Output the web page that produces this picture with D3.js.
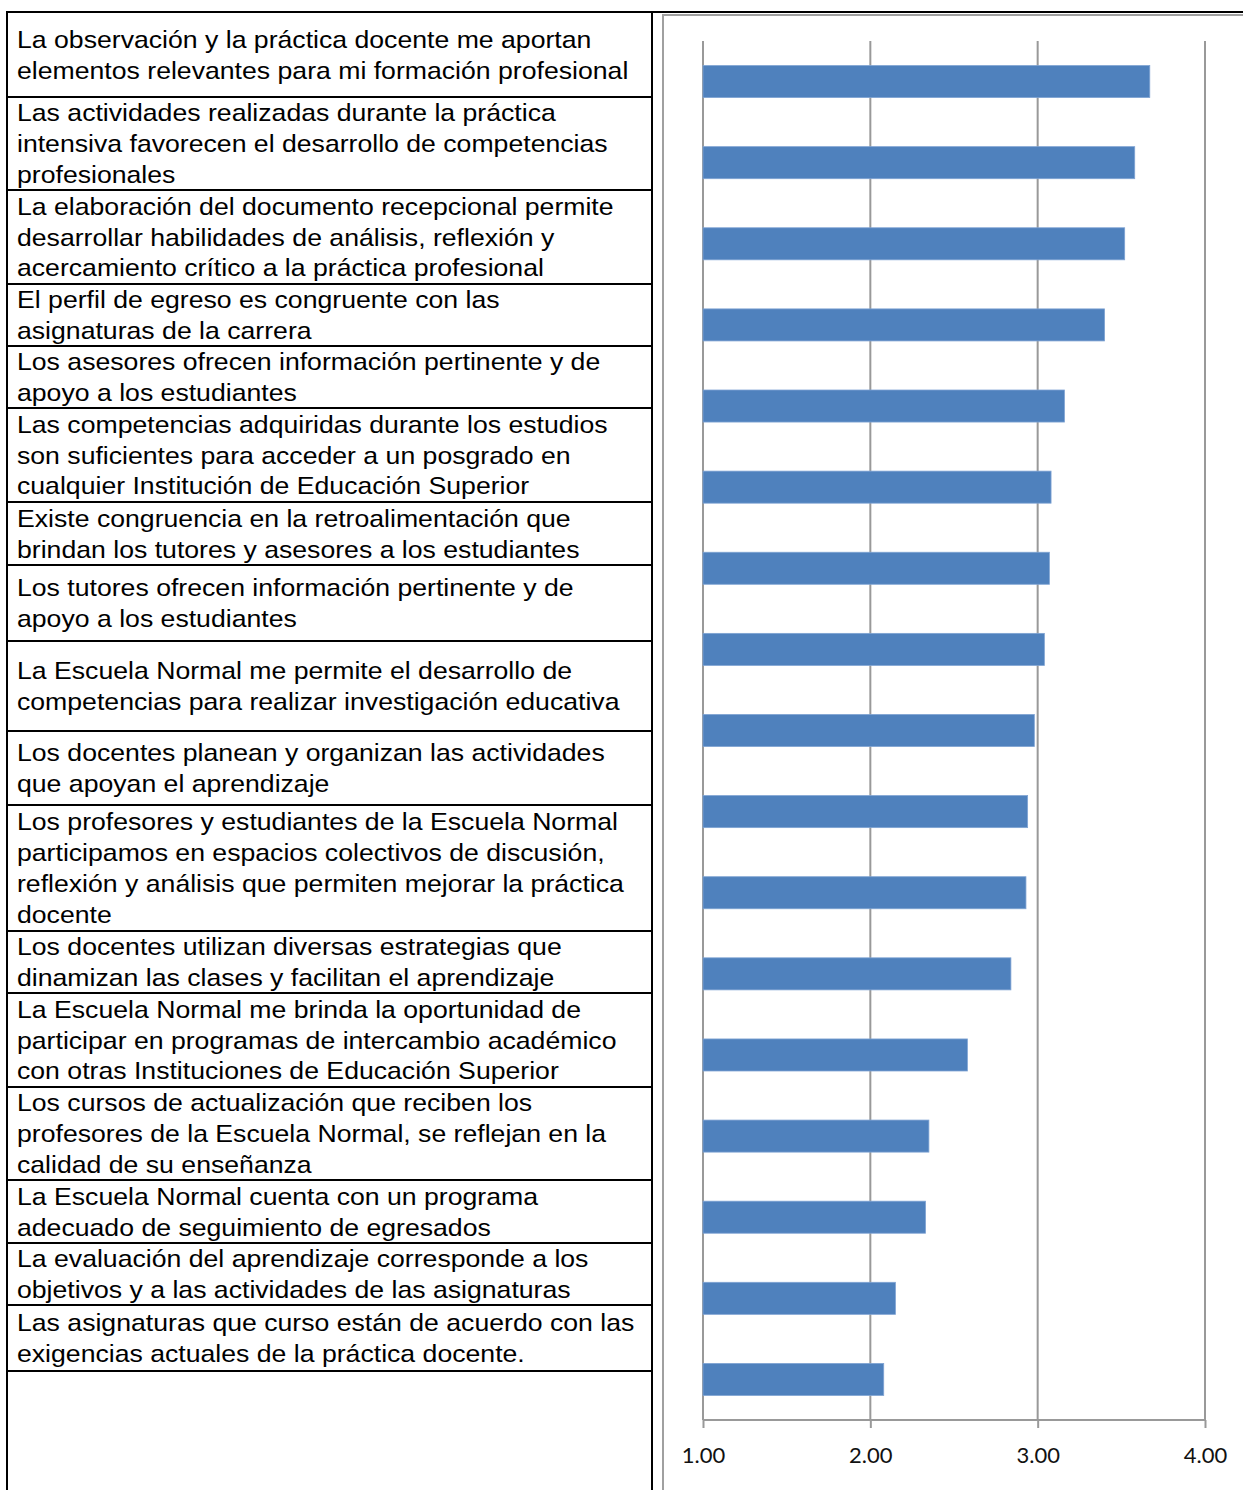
<!DOCTYPE html>
<html lang="es">
<head>
<meta charset="utf-8">
<title>Valoración de la formación</title>
<script src="https://d3js.org/d3.v7.min.js"></script>
<style>
  body { margin: 0; background: #fff; }
  svg { display: block; }
</style>
</head>
<body>
<script>

  // statements (with the line breaks of the original table)
  var statements = [
    ["La observación y la práctica docente me aportan", "elementos relevantes para mi formación profesional"],
    ["Las actividades realizadas durante la práctica", "intensiva favorecen el desarrollo de competencias", "profesionales"],
    ["La elaboración del documento recepcional permite", "desarrollar habilidades de análisis, reflexión y", "acercamiento crítico a la práctica profesional"],
    ["El perfil de egreso es congruente con las", "asignaturas de la carrera"],
    ["Los asesores ofrecen información pertinente y de", "apoyo a los estudiantes"],
    ["Las competencias adquiridas durante los estudios", "son suficientes para acceder a un posgrado en", "cualquier Institución de Educación Superior"],
    ["Existe congruencia en la retroalimentación que", "brindan los tutores y asesores a los estudiantes"],
    ["Los tutores ofrecen información pertinente y de", "apoyo a los estudiantes"],
    ["La Escuela Normal me permite el desarrollo de", "competencias para realizar investigación educativa"],
    ["Los docentes planean y organizan las actividades", "que apoyan el aprendizaje"],
    ["Los profesores y estudiantes de la Escuela Normal", "participamos en espacios colectivos de discusión,", "reflexión y análisis que permiten mejorar la práctica", "docente"],
    ["Los docentes utilizan diversas estrategias que", "dinamizan las clases y facilitan el aprendizaje"],
    ["La Escuela Normal me brinda la oportunidad de", "participar en programas de intercambio académico", "con otras Instituciones de Educación Superior"],
    ["Los cursos de actualización que reciben los", "profesores de la Escuela Normal, se reflejan en la", "calidad de su enseñanza"],
    ["La Escuela Normal cuenta con un programa", "adecuado de seguimiento de egresados"],
    ["La evaluación del aprendizaje corresponde a los", "objetivos y a las actividades de las asignaturas"],
    ["Las asignaturas que curso están de acuerdo con las", "exigencias actuales de la práctica docente."]
  ];

  // mean score per statement, same order
  var scores = [3.67, 3.58, 3.52, 3.40, 3.16, 3.08, 3.07, 3.04, 2.98, 2.94, 2.93, 2.84, 2.58, 2.35, 2.33, 2.15, 2.08];

  var ticks = [1, 2, 3, 4];

  // row heights of the table on the left (layout)
  var rowHeights = [85, 93, 94, 62, 62, 94, 63, 76, 90, 74, 126, 62, 94, 93, 63, 62, 66];

  var width = 1243, height = 1490;
  var tableLeft = 7, tableRight = 652, tableTop = 12, lineH = 30.8;

  var svg = d3.select("body").append("svg")
    .attr("width", width)
    .attr("height", height);

  // ---- table ----
  var table = svg.append("g");
  var tops = [tableTop];
  rowHeights.forEach(function(h, i){ tops.push(tops[i] + h); });

  table.selectAll("line.row")
    .data(tops.slice(1))
    .enter().append("line")
    .attr("class", "row")
    .attr("x1", tableLeft).attr("x2", tableRight)
    .attr("y1", d => d).attr("y2", d => d)
    .attr("stroke", "#000").attr("stroke-width", 2);

  // text in the source is a bit wider than Arial, so stretch it sideways
  var rows = table.selectAll("g.cell")
    .data(statements)
    .enter().append("g")
    .attr("class", "cell")
    .attr("transform", function(d, i){
      var mid = (tops[i] + tops[i + 1]) / 2;
      return "translate(17," + (mid - (d.length - 1) * lineH / 2) + ") scale(1.11,1)";
    });

  rows.selectAll("text")
    .data(d => d)
    .enter().append("text")
    .attr("y", (d, i) => i * lineH)
    .attr("dy", "0.36em")
    .style("font-family", "'Liberation Sans', Arial, sans-serif")
    .style("font-size", "24px")
    .attr("fill", "#000")
    .text(d => d);

  // outer lines of the table
  table.append("line")
    .attr("x1", tableLeft).attr("x2", tableLeft).attr("y1", tableTop).attr("y2", height)
    .attr("stroke", "#000").attr("stroke-width", 2);
  table.append("line")
    .attr("x1", tableRight).attr("x2", tableRight).attr("y1", tableTop).attr("y2", height)
    .attr("stroke", "#000").attr("stroke-width", 2);
  table.append("line")
    .attr("x1", tableLeft - 1).attr("x2", width).attr("y1", tableTop).attr("y2", tableTop)
    .attr("stroke", "#000").attr("stroke-width", 2);

  // chart frame
  svg.append("path")
    .attr("d", "M663," + height + "V15H" + width)
    .attr("fill", "none")
    .attr("stroke", "#a0a0a0").attr("stroke-width", 2);

  // ---- bar chart ----
  var plotTop = 41, plotBottom = 1420;

  var x = d3.scaleLinear()
    .domain([1, 4])
    .range([703, 1205]);

  var y = d3.scaleBand()
    .domain(d3.range(scores.length))
    .range([plotTop, plotBottom])
    .paddingInner(0.605)
    .paddingOuter(0.3025);

  var chart = svg.append("g");

  chart.selectAll("line.grid")
    .data(ticks)
    .enter().append("line")
    .attr("class", "grid")
    .attr("x1", d => x(d)).attr("x2", d => x(d))
    .attr("y1", plotTop).attr("y2", plotBottom)
    .attr("stroke", "#999").attr("stroke-width", 2);

  chart.selectAll("rect")
    .data(scores)
    .enter().append("rect")
    .attr("x", x(1))
    .attr("y", (d, i) => y(i))
    .attr("width", d => x(d) - x(1))
    .attr("height", y.bandwidth())
    .attr("fill", "#4f81bd")
    .attr("stroke", "#7fa3d3")
    .attr("stroke-width", 0.8);

  var axis = d3.axisBottom(x)
    .tickValues(ticks)
    .tickSize(8)
    .tickPadding(19)
    .tickFormat(d3.format(".2f"));

  var ax = chart.append("g")
    .attr("transform", "translate(0," + plotBottom + ")")
    .call(axis);

  ax.select(".domain").attr("stroke", "#999").attr("stroke-width", 2)
    .attr("d", "M" + x(1) + ",0H" + x(4));
  ax.selectAll(".tick line").attr("stroke", "#999").attr("stroke-width", 2);
  ax.selectAll(".tick text")
    .style("font-family", "Lato, 'Open Sans', sans-serif")
    .style("font-size", "22px")
    .attr("fill", "#111");

</script>
</body>
</html>
